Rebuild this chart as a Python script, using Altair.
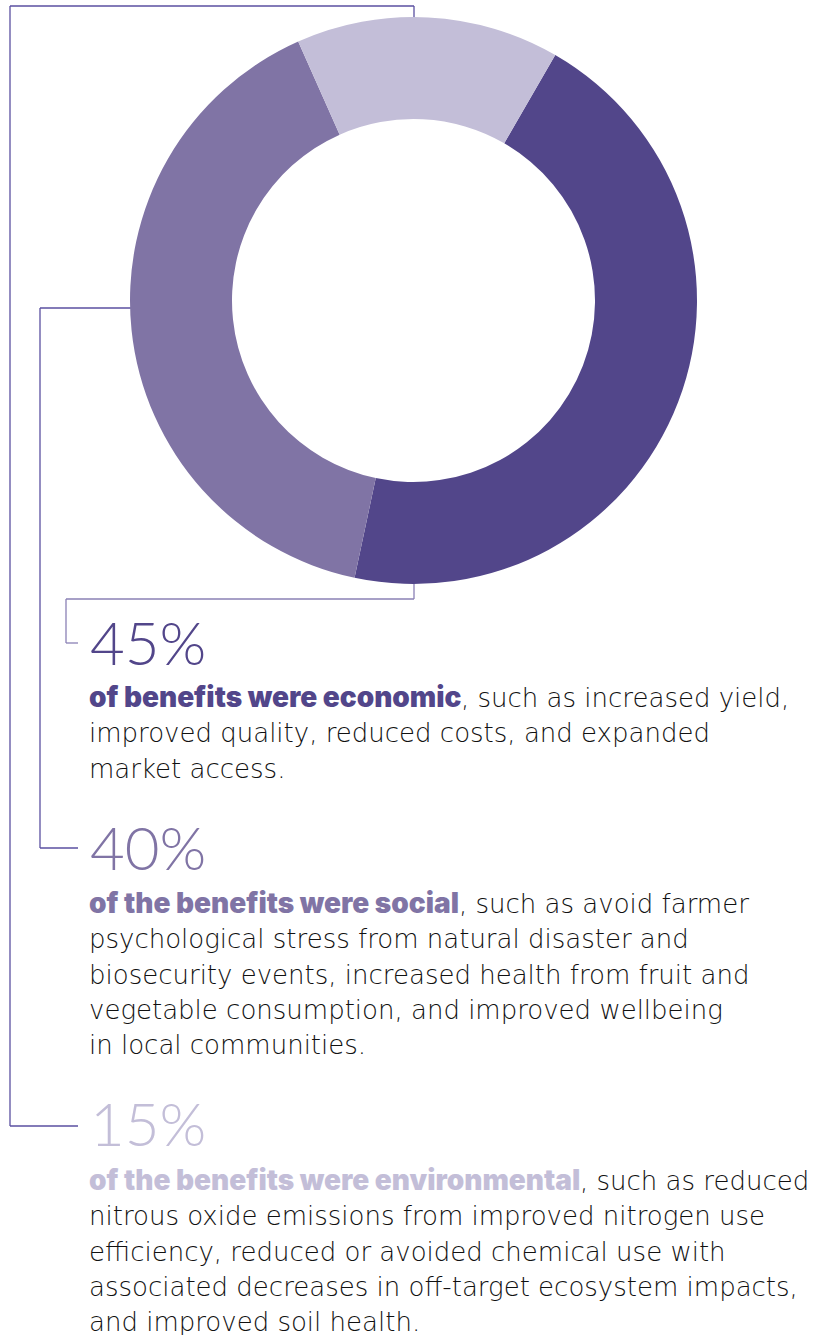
import math
import altair as alt
import pandas as pd

# ---- data ----
categories = ["economic", "social", "environmental"]
values = [45, 40, 15]
colors = ["#52468a", "#8074a5", "#c3bed8"]
pct_labels = ["45%", "40%", "15%"]
bold_parts = ["of benefits were economic",
              "of the benefits were social",
              "of the benefits were environmental"]
first_rest = [", such as increased yield,",
              ", such as avoid farmer",
              ", such as reduced"]
other_lines = [
    ["improved quality, reduced costs, and expanded",
     "market access."],
    ["psychological stress from natural disaster and",
     "biosecurity events, increased health from fruit and",
     "vegetable consumption, and improved wellbeing",
     "in local communities."],
    ["nitrous oxide emissions from improved nitrogen use",
     "efficiency, reduced or avoided chemical use with",
     "associated decreases in off-target ecosystem impacts,",
     "and improved soil health."],
]

df = pd.DataFrame({"category": categories, "value": values, "order": [0, 1, 2]})

# ---- layout ----
W, H = 815, 1335
CX, CY = 413.5, 300.5
R_OUT, R_IN = 283.5, 181.5
start = math.radians(30)

donut = alt.Chart(df).mark_arc(innerRadius=R_IN, outerRadius=R_OUT, stroke=None).encode(
    theta=alt.Theta("value:Q", stack=True,
                    scale=alt.Scale(domain=[0, 100], range=[start, start + 2 * math.pi])),
    color=alt.Color("category:N", scale=alt.Scale(domain=categories, range=colors), legend=None),
    order=alt.Order("order:Q", sort="ascending"),
    x=alt.value(CX), y=alt.value(CY),
)

one = pd.DataFrame({"a": [0]})

def seg(x1, y1, x2, y2, color):
    return alt.Chart(one).mark_rule(stroke=color, strokeWidth=1.3).encode(
        x=alt.value(x1), y=alt.value(y1), x2=alt.value(x2), y2=alt.value(y2))

lc1 = "#5a4fa0"
lc3 = "#8a80b5"
connectors = [
    seg(10, 6, 414, 6, lc1), seg(414, 6, 414, 30, lc1),
    seg(10, 6, 10, 1126, lc1), seg(10, 1126, 78, 1126, lc1),
    seg(40, 308, 135, 308, lc1), seg(40, 308, 40, 848, lc1), seg(40, 848, 78, 848, lc1),
    seg(414, 575, 414, 599, lc3), seg(66, 599, 414, 599, lc3),
    seg(66, 599, 66, 643, lc3), seg(66, 643, 78, 643, lc3),
]

pct_base = [665, 870, 1146]
body_base = [707, 913, 1190]
bold_end = [461, 459, 580]
LH = 35.3
FS = 26
FONT = "DejaVu Sans"

texts = []
for i in range(3):
    texts.append(alt.Chart(one).mark_text(
        text=pct_labels[i], font="Lato", fontWeight=300, fontSize=60, color=colors[i],
        align="left", baseline="alphabetic").encode(x=alt.value(90), y=alt.value(pct_base[i])))
    texts.append(alt.Chart(one).mark_text(
        text=bold_parts[i], font="Inter", fontWeight=900, fontSize=28, color=colors[i],
        align="left", baseline="alphabetic").encode(x=alt.value(89), y=alt.value(body_base[i])))
    texts.append(alt.Chart(one).mark_text(
        text=first_rest[i], font=FONT, fontWeight=200, fontSize=FS, color="#111111",
        align="left", baseline="alphabetic").encode(x=alt.value(bold_end[i]), y=alt.value(body_base[i])))
    texts.append(alt.Chart(one).mark_text(
        text=other_lines[i], font=FONT, fontWeight=200, fontSize=FS, color="#111111",
        lineHeight=LH, align="left", baseline="alphabetic").encode(
        x=alt.value(89), y=alt.value(body_base[i] + LH)))

chart = alt.layer(*connectors, donut, *texts).properties(
    width=W, height=H, padding=0, autosize=alt.AutoSizeParams(type="none"),
    background="white",
).configure_view(stroke=None)

chart.save("out.html", embed_options={"renderer": "svg", "actions": False})
